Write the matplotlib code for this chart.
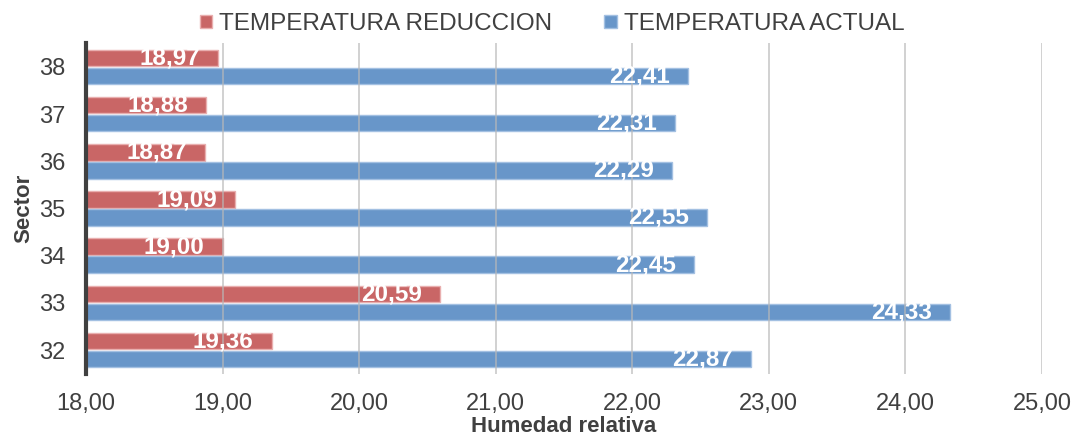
import matplotlib
matplotlib.use("Agg")
import matplotlib.pyplot as plt
import numpy as np

sectors = ["32", "33", "34", "35", "36", "37", "38"]
temp_reduccion = [19.36, 20.59, 19.00, 19.09, 18.87, 18.88, 18.97]
temp_actual = [22.87, 24.33, 22.45, 22.55, 22.29, 22.31, 22.41]
x_ticks = [18, 19, 20, 21, 22, 23, 24, 25]

plt.rcParams["font.family"] = ["Liberation Sans", "DejaVu Sans"]
text_color = "#404040"

fig = plt.figure(figsize=(10.74, 4.38), dpi=100)
ax = fig.add_axes([0.0801, 0.147, 0.890, 0.754])

y = np.arange(len(sectors))
h = 0.35
off = 0.19
red = "#C96666"
blue = "#6896C9"

bars_r = ax.barh(y + off, np.array(temp_reduccion) - 18, left=18, height=h,
                 color=red, edgecolor="#E9AFAF", linewidth=1.0, zorder=2,
                 label="TEMPERATURA REDUCCION")
bars_b = ax.barh(y - off, np.array(temp_actual) - 18, left=18, height=h,
                 color=blue, edgecolor="#A3C0E2", linewidth=1.0, zorder=2,
                 label="TEMPERATURA ACTUAL")

for bars, vals in ((bars_r, temp_reduccion), (bars_b, temp_actual)):
    for b, v in zip(bars, vals):
        ax.annotate(f"{v:.2f}".replace(".", ","),
                    xy=(v, b.get_y() + b.get_height() / 2),
                    xytext=(-13, 0), textcoords="offset points",
                    ha="right", va="center", color="white",
                    fontsize=17.5, fontweight="bold", zorder=5)

ax.set_xlim(18, 25)
ax.set_ylim(-0.5, len(sectors) - 0.5)
ax.set_xticks(x_ticks)
ax.set_xticklabels([f"{t:.2f}".replace(".", ",") for t in x_ticks])
ax.set_yticks(y)
ax.set_yticklabels(sectors)
ax.tick_params(axis="both", length=0, labelsize=17, labelcolor=text_color)
ax.tick_params(axis="x", pad=14)
ax.tick_params(axis="y", pad=15)

ax.xaxis.grid(True, color="#B8B8B8", linewidth=1.2, zorder=3, alpha=0.75)
ax.set_axisbelow(False)
for s in ("top", "right", "bottom"):
    ax.spines[s].set_visible(False)
ax.spines["left"].set_color("#404040")
ax.spines["left"].set_linewidth(3)
ax.spines["left"].set_zorder(6)

ax.set_xlabel("Humedad relativa", fontsize=16, fontweight="bold",
              color=text_color, labelpad=1)
ax.set_ylabel("Sector", fontsize=16, fontweight="bold", color=text_color,
              labelpad=3)

leg = fig.legend(handles=[bars_r, bars_b], loc="upper center",
                 bbox_to_anchor=(0.514, 1.02), ncol=2, frameon=False,
                 fontsize=17.5, handlelength=0.5, handleheight=0.5,
                 handletextpad=0.3, columnspacing=2.15)
for t in leg.get_texts():
    t.set_color(text_color)

fig.savefig("out.png", dpi=100)
